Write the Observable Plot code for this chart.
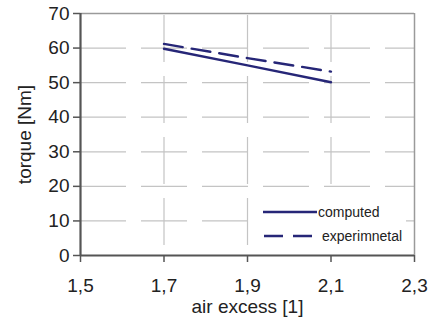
<!DOCTYPE html>
<html><head><meta charset="utf-8">
<script src="https://cdn.jsdelivr.net/npm/d3@7"></script>
<script src="https://cdn.jsdelivr.net/npm/@observablehq/plot@0.6"></script>
<style>
body{margin:0;background:#fff;font-family:"Liberation Sans",Arial,sans-serif}
#wrap{position:relative;width:433px;height:323px}
#legend{position:absolute;left:250px;top:198px;width:156px;height:52px;background:#fff;font-size:14px;color:#222}
#legend .row{position:absolute;left:0;height:20px;display:flex;align-items:center}
#legend svg{display:block}
</style></head><body><div id="wrap"><div id="legend"></div></div>
<script>
const airExcess = [1.7, 1.9, 2.1];
const computed = [59.8, 55.0, 50.1];
const experimental = [61.2, 57.1, 53.2];
const seriesNames = ["computed", "experimnetal"];
const xTicks = [1.5, 1.7, 1.9, 2.1, 2.3];
const yTicks = [0, 10, 20, 30, 40, 50, 60, 70];
const xLabel = "air excess [1]";
const yLabel = "torque [Nm]";

const lineColor = "#262677";
const rows = [];
airExcess.forEach((x, i) => {
  rows.push({series: seriesNames[0], x, y: computed[i]});
  rows.push({series: seriesNames[1], x, y: experimental[i]});
});
const xDom = [xTicks[0], xTicks[xTicks.length - 1]];
const yDom = [yTicks[0], yTicks[yTicks.length - 1]];
const fmt = d => d.toFixed(1).replace(".", ",");

const chart = Plot.plot({
  width: 433, height: 323,
  marginLeft: 80, marginRight: 19, marginTop: 13, marginBottom: 68,
  style: {fontFamily: "'Liberation Sans', Arial, sans-serif", fontSize: "19px", color: "#222", background: "#fff"},
  x: {domain: xDom},
  y: {domain: yDom},
  marks: [
    Plot.ruleY(yTicks.slice(1, -1), {x1: xDom[0], x2: xDom[1], stroke: "#c4c4c4", strokeWidth: 1.2, strokeDasharray: "46,15"}),
    Plot.ruleX(xTicks.slice(1, -1), {y1: yDom[0], y2: yDom[1], stroke: "#c4c4c4", strokeWidth: 1.2, strokeDasharray: "47,14", strokeDashoffset: 51}),
    Plot.ruleY([yDom[1]], {x1: xDom[0], x2: xDom[1], stroke: "#9a9a9a", strokeWidth: 1.5}),
    Plot.ruleX([xDom[1]], {y1: yDom[0], y2: yDom[1], stroke: "#9a9a9a", strokeWidth: 1.5}),
    Plot.line(rows.filter(d => d.series === seriesNames[1]), {x: "x", y: "y", stroke: lineColor, strokeWidth: 2.4, strokeDasharray: "19,9"}),
    Plot.line(rows.filter(d => d.series === seriesNames[0]), {x: "x", y: "y", stroke: lineColor, strokeWidth: 2.4}),
    Plot.ruleX([xDom[0]], {y1: yDom[0], y2: yDom[1], stroke: "#555", strokeWidth: 2.2}),
    Plot.ruleY([yDom[0]], {x1: xDom[0], x2: xDom[1], stroke: "#555", strokeWidth: 2}),
    Plot.axisX({ticks: xTicks, tickFormat: fmt, tickSize: 7, tickPadding: 16, fontSize: 19, stroke: "#555", strokeWidth: 1.5, label: null}),
    Plot.axisY({ticks: yTicks, tickFormat: d => String(d), tickSize: 7, tickPadding: 4, fontSize: 19, stroke: "#555", strokeWidth: 1.5, label: null}),
    Plot.text([xLabel], {frameAnchor: "bottom", dy: 51, lineAnchor: "middle", fontSize: 19, fill: "#222"}),
    Plot.text([yLabel], {frameAnchor: "left", textAnchor: "middle", rotate: -90, dx: -56, lineAnchor: "middle", fontSize: 19, fill: "#222"})
  ]
});
document.getElementById("wrap").prepend(chart);

const legend = document.getElementById("legend");
seriesNames.forEach((name, i) => {
  const row = document.createElement("div");
  row.className = "row";
  row.style.top = (4 + i * 24) + "px";
  const line = i
    ? `<line x1="14" x2="62" y1="10" y2="10" stroke="${lineColor}" stroke-width="2.4" stroke-dasharray="19,10"/>`
    : `<line x1="13" x2="67" y1="10" y2="10" stroke="${lineColor}" stroke-width="2.4"/>`;
  row.innerHTML = `<svg width="${i ? 72 : 68}" height="20">${line}</svg><span>${name}</span>`;
  legend.appendChild(row);
});
</script>
</body></html>
